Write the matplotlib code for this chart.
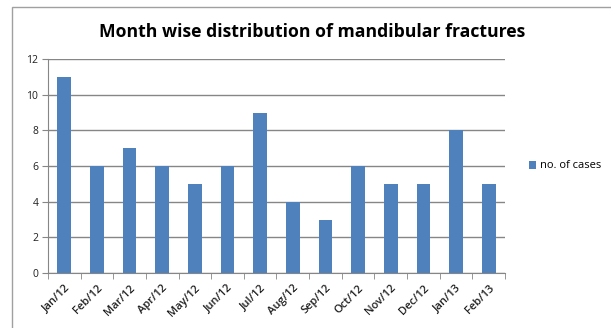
import numpy as np
import matplotlib.pyplot as plt
from matplotlib.patches import Rectangle

months = ['Jan/12', 'Feb/12', 'Mar/12', 'Apr/12', 'May/12', 'Jun/12', 'Jul/12',
          'Aug/12', 'Sep/12', 'Oct/12', 'Nov/12', 'Dec/12', 'Jan/13', 'Feb/13']
cases = [11, 6, 7, 6, 5, 6, 9, 4, 3, 6, 5, 5, 8, 5]

plt.rcParams['font.family'] = ['Open Sans', 'DejaVu Sans']

fig = plt.figure(figsize=(6.11, 3.28), dpi=100)
# chart border
fig.patches.append(Rectangle((12 / 611, -0.05), 1.0, 1 - 7 / 328 + 0.05,
                             transform=fig.transFigure, fill=False,
                             edgecolor='#a0a0a0', linewidth=1.0))

ax = fig.add_axes([48 / 611, 1 - 273 / 328, (505 - 48) / 611, (273 - 59) / 328])
x = np.arange(len(months))
ax.bar(x, cases, width=0.42, color='#4f81bd', label='no. of cases', zorder=3)

ax.set_xlim(-0.5, len(months) - 0.5)
ax.set_ylim(0, 12)
ax.set_yticks(range(0, 13, 2))
ax.yaxis.grid(True, color='#868686', linewidth=1.0, zorder=0)
ax.tick_params(axis='y', labelsize=7.5, length=4, color='#868686', labelcolor='#202020',
               direction='out', pad=3)

ax.set_xticks(x)
ax.set_xticklabels(months, rotation=45, ha='right', rotation_mode='anchor',
                   fontsize=8, fontweight='semibold', color='#202020')
ax.tick_params(axis='x', length=0, pad=7)
ax.set_xticks(np.arange(-0.5, len(months)), minor=True)
ax.tick_params(axis='x', which='minor', length=4, color='#868686', direction='out')

for s in ['top', 'right']:
    ax.spines[s].set_visible(False)
for s in ['left', 'bottom']:
    ax.spines[s].set_color('#868686')

fig.text(312 / 611, 1 - 32 / 328, 'Month wise distribution of mandibular fractures',
         ha='center', va='center', fontsize=12.7, fontweight='bold')

ax.legend(loc='center left', bbox_to_anchor=(1.03, 0.5), frameon=False,
          fontsize=8, handlelength=0.7, handleheight=0.7, handletextpad=0.3)

fig.savefig('out.png', dpi=100)
